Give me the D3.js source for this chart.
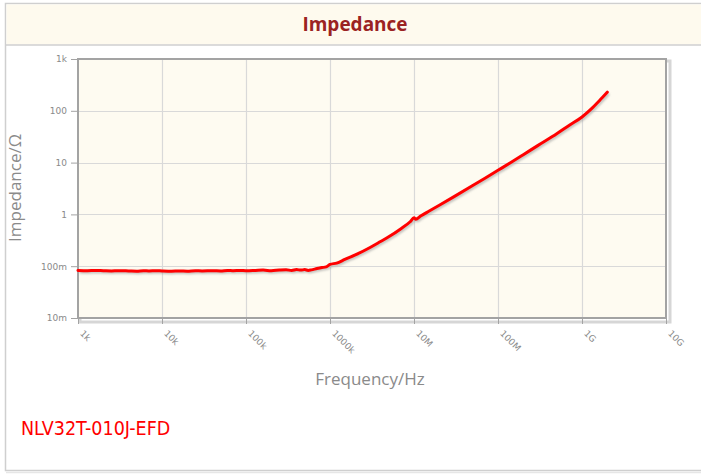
<!DOCTYPE html>
<html><head><meta charset="utf-8">
<script src="https://cdn.jsdelivr.net/npm/d3@7"></script>
<style>
html,body{margin:0;padding:0;background:#fff;}
svg{display:block;}
</style></head>
<body>
<svg id="chart" width="701" height="476"></svg>
<script>
// ---- data ----
const title = "Impedance";
const seriesName = "NLV32T-010J-EFD";
const xTickValues = [1e3, 1e4, 1e5, 1e6, 1e7, 1e8, 1e9, 1e10];
const xTickLabels = ["1k", "10k", "100k", "1000k", "10M", "100M", "1G", "10G"];
const yTickValues = [0.01, 0.1, 1, 10, 100, 1000];
const yTickLabels = ["10m", "100m", "1", "10", "100", "1k"];
const freqHz = [1e3, 1.3e3, 1.6e3, 2e3, 2.5e3, 3e3, 4e3, 5e3, 6e3, 7e3, 8.5e3, 1e4, 1.3e4, 1.6e4, 2e4, 2.5e4, 3e4, 4e4, 5e4, 6e4, 7e4, 8.5e4, 1e5, 1.3e5, 1.6e5, 2e5, 2.5e5, 3e5, 3.5e5, 4e5, 4.5e5, 5e5, 5.5e5, 6e5, 7e5, 8e5, 9e5, 1e6, 1.2e6, 1.5e6, 2e6, 3e6, 4e6, 5e6, 7e6, 9e6, 1e7, 1.05e7, 1.2e7, 1.5e7, 2e7, 3e7, 5e7, 7e7, 1e8, 1.5e8, 2e8, 3e8, 5e8, 7e8, 1e9, 1.3e9, 1.6e9, 2e9];
const impedanceOhm = [0.083, 0.082, 0.083, 0.082, 0.081, 0.082, 0.081, 0.080, 0.082, 0.081, 0.082, 0.081, 0.080, 0.081, 0.080, 0.082, 0.081, 0.082, 0.081, 0.083, 0.082, 0.083, 0.082, 0.083, 0.084, 0.082, 0.084, 0.085, 0.083, 0.086, 0.084, 0.086, 0.083, 0.085, 0.090, 0.094, 0.097, 0.108, 0.115, 0.135, 0.165, 0.23, 0.30, 0.37, 0.53, 0.72, 0.86, 0.81, 0.93, 1.15, 1.5, 2.2, 3.6, 5.0, 7.1, 10.6, 14.2, 21.5, 36, 52, 76, 110, 155, 229];

// ---- layout ----
const svg = d3.select("#chart");
const W = 701, H = 476;
const plot = {left: 78, top: 59, right: 666, bottom: 318};

const defs = svg.append("defs");
const f = defs.append("filter").attr("id","lineShadow").attr("x","-10%").attr("y","-10%").attr("width","120%").attr("height","120%");
f.append("feGaussianBlur").attr("stdDeviation", 1.2);

// outer panel
svg.append("rect").attr("x",5.5).attr("y",3.5).attr("width",W).attr("height",467)
  .attr("fill","#fff").attr("stroke","#cfcfcf").attr("stroke-width",1.5);
svg.append("line").attr("x1",6).attr("x2",W).attr("y1",472.5).attr("y2",472.5).attr("stroke","#e6e6e6").attr("stroke-width",1.5);
// header
svg.append("rect").attr("x",6.5).attr("y",4.5).attr("width",W).attr("height",40)
  .attr("fill","#fefaee");
svg.append("line").attr("x1",6).attr("x2",W).attr("y1",45).attr("y2",45).attr("stroke","#cfcfcf").attr("stroke-width",1.5);
svg.append("text").attr("x",355).attr("y",31).attr("text-anchor","middle")
  .attr("font-family","'Open Sans', sans-serif").attr("font-weight","bold").attr("font-size",19)
  .attr("fill","#9b2222").text(title);

// scales
const x = d3.scaleLog().domain([1e3,1e10]).range([plot.left, plot.right]);
const y = d3.scaleLog().domain([0.01,1000]).range([plot.bottom, plot.top]);

// frame shadow & background
svg.append("rect").attr("x",plot.left+2).attr("y",plot.top+2).attr("width",plot.right-plot.left+2).attr("height",plot.bottom-plot.top+2)
  .attr("fill","none").attr("stroke","#d6d6d6").attr("stroke-width",3);
svg.append("rect").attr("x",plot.left).attr("y",plot.top).attr("width",plot.right-plot.left).attr("height",plot.bottom-plot.top)
  .attr("fill","#fefbf1");

// grid
const g = svg.append("g");
g.selectAll("line.vg").data(xTickValues.slice(1,-1)).join("line")
  .attr("x1",d=>Math.round(x(d))+0.5).attr("x2",d=>Math.round(x(d))+0.5)
  .attr("y1",plot.top).attr("y2",plot.bottom).attr("stroke","#d9d9d9").attr("stroke-width",1.2);
g.selectAll("line.hg").data(yTickValues.slice(1,-1)).join("line")
  .attr("y1",d=>Math.round(y(d))+0.5).attr("y2",d=>Math.round(y(d))+0.5)
  .attr("x1",plot.left).attr("x2",plot.right).attr("stroke","#d9d9d9").attr("stroke-width",1.2);

// frame border
svg.append("rect").attr("x",plot.left).attr("y",plot.top).attr("width",plot.right-plot.left).attr("height",plot.bottom-plot.top)
  .attr("fill","none").attr("stroke","#a3a3a3").attr("stroke-width",2);

// axes
const yAxis = d3.axisLeft(y).tickValues(yTickValues).tickFormat((d,i)=>yTickLabels[i]).tickSize(6).tickPadding(4);
const ya = svg.append("g").attr("transform",`translate(${plot.left-1},0)`).call(yAxis);
ya.select(".domain").remove();
ya.selectAll("line").attr("stroke","#a3a3a3");
ya.selectAll("text").attr("fill","#8a8a8a").attr("font-size",9).attr("font-family","'DejaVu Sans', sans-serif");

const xAxis = d3.axisBottom(x).tickValues(xTickValues).tickFormat((d,i)=>xTickLabels[i]).tickSize(5);
const xa = svg.append("g").attr("transform",`translate(0,${plot.bottom+1})`).call(xAxis);
xa.select(".domain").remove();
xa.selectAll("line").attr("stroke","#a3a3a3");
xa.selectAll("text").attr("fill","#8a8a8a").attr("font-size",9).attr("font-family","'DejaVu Sans', sans-serif")
  .attr("text-anchor","start").attr("dy",null).attr("y",0)
  .attr("transform","translate(1,15) rotate(45)");

// axis titles
svg.append("text").attr("transform","translate(21,188) rotate(-90)").attr("text-anchor","middle")
  .attr("font-family","'Open Sans', sans-serif").attr("font-size",17).attr("fill","#8a8a8a").text("Impedance/\u03A9");
svg.append("text").attr("x",370).attr("y",385).attr("text-anchor","middle")
  .attr("font-family","'Open Sans', sans-serif").attr("font-size",17).attr("fill","#8a8a8a").text("Frequency/Hz");

// line
const pts = freqHz.map((fq,i)=>[fq, impedanceOhm[i]]);
const line = d3.line().x(d=>x(d[0])).y(d=>y(d[1])).curve(d3.curveMonotoneX);
svg.append("path").datum(pts).attr("d",line).attr("fill","none").attr("stroke","#999").attr("stroke-opacity",0.6)
  .attr("stroke-width",3).attr("transform","translate(1.5,1.5)").attr("filter","url(#lineShadow)");
svg.append("path").datum(pts).attr("d",line).attr("fill","none").attr("stroke","#ff0000")
  .attr("stroke-width",3).attr("stroke-linejoin","round").attr("stroke-linecap","round");

// series label
svg.append("text").attr("x",21).attr("y",435).attr("font-family","'DejaVu Sans Condensed', 'DejaVu Sans', sans-serif")
  .attr("font-size",19.5).attr("fill","#ff0000").text(seriesName);
</script>
</body></html>
